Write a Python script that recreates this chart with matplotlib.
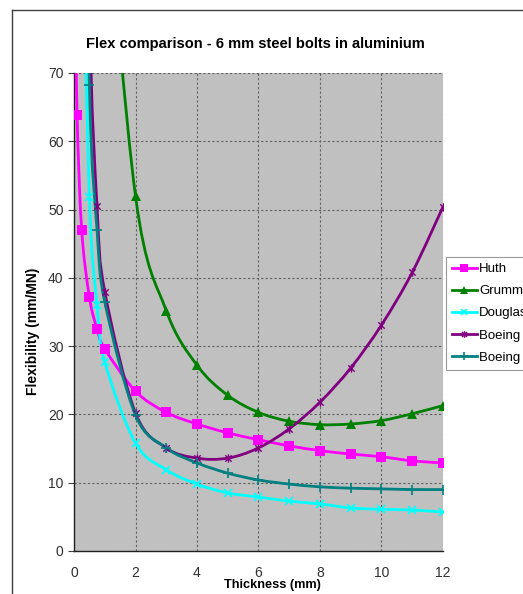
import numpy as np
import matplotlib
matplotlib.use("Agg")
import matplotlib.pyplot as plt
from matplotlib.path import Path
from matplotlib.patches import PathPatch
from matplotlib.lines import Line2D

plt.rcParams['font.family'] = ['Liberation Sans', 'DejaVu Sans']

# values (points above 70 are off-chart estimates)
t_huth = [0.05, 0.1, 0.25, 0.5, 0.75, 1, 2, 3, 4, 5, 6, 7, 8, 9, 10, 11, 12]
huth = [82, 63.8, 47.0, 37.2, 32.5, 29.6, 23.4, 20.3, 18.6, 17.3, 16.3, 15.4, 14.7, 14.2, 13.8, 13.2, 12.9]

t_grumman = [0.75, 1, 2, 3, 4, 5, 6, 7, 8, 9, 10, 11, 12]
grumman = [138, 103, 52.0, 35.2, 27.2, 22.8, 20.3, 19.0, 18.5, 18.6, 19.1, 20.1, 21.3]

t_douglas = [0.25, 0.5, 0.75, 1, 2, 3, 4, 5, 6, 7, 8, 9, 10, 11, 12]
douglas = [100, 51.8, 36.0, 27.7, 15.8, 11.9, 9.8, 8.5, 7.9, 7.3, 6.9, 6.3, 6.1, 6.0, 5.7]

t_boeing1 = [0.25, 0.5, 0.75, 1, 2, 3, 4, 5, 6, 7, 8, 9, 10, 11, 12]
boeing1 = [160, 80, 50.5, 38.0, 20.2, 15.1, 13.6, 13.6, 15.1, 17.9, 21.8, 26.8, 33.1, 40.8, 50.4]

t_boeing2 = [0.25, 0.5, 0.75, 1, 2, 3, 4, 5, 6, 7, 8, 9, 10, 11, 12]
boeing2 = [135, 68.2, 47.0, 36.5, 19.9, 15.1, 12.9, 11.4, 10.4, 9.8, 9.4, 9.2, 9.1, 9.0, 9.0]

names = ['Huth', 'Grumman', 'Douglas', 'Boeing 1', 'Boeing 2']
colors = ['#FF00FF', '#008000', '#00FFFF', '#800080', '#008080']

# excel style star marker (x with a vertical bar)
star = Path([(-1, -1), (1, 1), (-1, 1), (1, -1), (0, -1.3), (0, 1.3)],
            [Path.MOVETO, Path.LINETO, Path.MOVETO, Path.LINETO, Path.MOVETO, Path.LINETO])
markers = [dict(marker='s', markersize=6.5, markeredgewidth=0),
           dict(marker='^', markersize=6.5, markeredgewidth=0),
           dict(marker='x', markersize=6, markeredgewidth=1.2),
           dict(marker=star, markersize=6, markeredgewidth=1.0),
           dict(marker='+', markersize=7, markeredgewidth=1.2)]


def smooth_path(x, y):
    # bezier segments like Excel's "smoothed line"
    p = np.column_stack([x, y]).astype(float)
    n = len(p)
    verts = [p[0]]
    codes = [Path.MOVETO]
    for i in range(n - 1):
        p0 = p[i - 1] if i > 0 else p[i]
        p3 = p[i + 2] if i + 2 < n else p[i + 1]
        c1 = p[i] + (p[i + 1] - p0) / 6
        c2 = p[i + 1] - (p3 - p[i]) / 6
        verts += [c1, c2, p[i + 1]]
        codes += [Path.CURVE4] * 3
    return Path(verts, codes)


W, H = 523, 594
fig = plt.figure(figsize=(W / 100, H / 100), dpi=100)
ax = fig.add_axes([74 / W, 1 - 551 / H, (443 - 74) / W, (551 - 73) / H])
ax.set_facecolor('#C0C0C0')

series = [(t_huth, huth), (t_grumman, grumman), (t_douglas, douglas),
          (t_boeing1, boeing1), (t_boeing2, boeing2)]
handles = []
for (tx, ty), name, c, mk in zip(series, names, colors, markers):
    patch = PathPatch(smooth_path(tx, ty), fill=False, edgecolor=c, lw=2.0, zorder=3)
    ax.add_patch(patch)
    ax.plot(tx, ty, linestyle='none', color=c, zorder=4, **mk)
    handles.append(Line2D([], [], color=c, lw=2.0, marker=mk['marker'],
                          markersize=mk['markersize'] * 0.8,
                          markeredgewidth=mk['markeredgewidth']))

ax.set_xlim(0, 12)
ax.set_ylim(0, 70)
ax.set_xticks(range(0, 13, 2))
ax.set_yticks(range(0, 71, 10))
ax.grid(True, color='#606060', linestyle=(0, (2, 2)), lw=0.8)
ax.set_axisbelow(True)
for s in ['top', 'right']:
    ax.spines[s].set_visible(False)
for s in ['left', 'bottom']:
    ax.spines[s].set_color('#202020')
    ax.spines[s].set_linewidth(1.0)
ax.tick_params(axis='y', direction='out', length=4.5, width=0.8, color='#404040',
               labelsize=10, labelcolor='#303030', pad=3)
ax.tick_params(axis='x', length=0, labelsize=10, labelcolor='#303030', pad=11)

fig.text(255 / W, 1 - 44 / H, 'Flex comparison - 6 mm steel bolts in aluminium',
         ha='center', va='center', fontsize=10.5, fontweight='bold')
fig.text(272 / W, 1 - 585 / H, 'Thickness (mm)', ha='center', va='center',
         fontsize=9.2, fontweight='bold')
fig.text(33 / W, 1 - 331 / H, 'Flexibility (mm/MN)', ha='center', va='center',
         rotation=90, fontsize=10, fontweight='bold')

# chart frame (cut off on the right and bottom like the reference)
fig.add_artist(Line2D([12 / W, 12 / W], [0, 1 - 10 / H], color='#404040', lw=1.0))
fig.add_artist(Line2D([12 / W, 1], [1 - 10 / H, 1 - 10 / H], color='#404040', lw=1.0))

leg = fig.legend(handles, names, loc='upper left', bbox_to_anchor=(446 / W, 1 - 257 / H),
                 fontsize=9.5, frameon=True, fancybox=False, edgecolor='#808080',
                 handlelength=1.9, handletextpad=0.15, labelspacing=0.75,
                 borderpad=0.45, borderaxespad=0)
leg.get_frame().set_linewidth(0.8)

fig.savefig('out.png', dpi=100)
